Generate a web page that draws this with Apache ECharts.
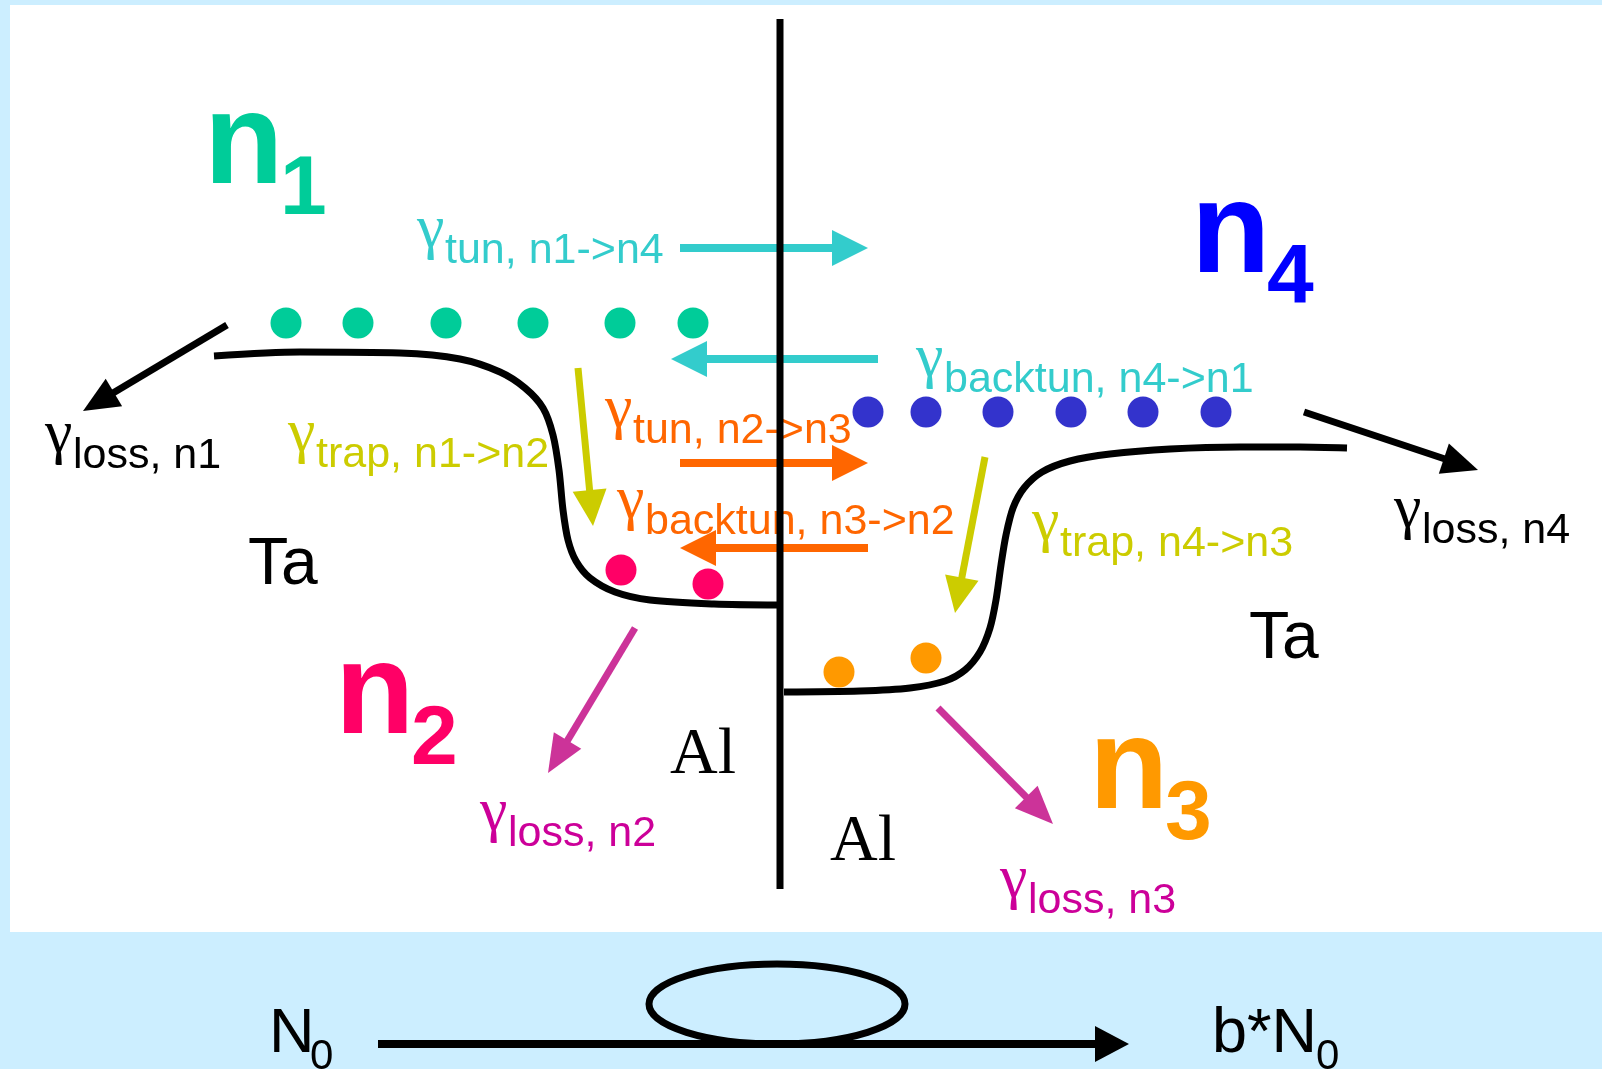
<!DOCTYPE html>
<html><head><meta charset="utf-8">
<script src="https://cdn.jsdelivr.net/npm/echarts@6/dist/echarts.min.js"></script>
<style>html,body{margin:0;padding:0;background:#cceeff;overflow:hidden}#c{width:1602px;height:1069px}</style>
</head><body><div id="c"></div>
<script>
// ---------- Diagram data (diagram units: x 0..1602 left->right, y 0..1069 top->bottom) ----------
const extentX = [0, 1602];
const extentY = [0, 1069];
const panel = [[10, 5, 1602, 932]];
const interfaceLine = [[780, 19], [780, 889]];
const leftEdge = [[214,356],[300,352],[400,353],[460,359],[500,372],[525,388],[543,408],[553,435],[559,470],[563,510],[568,540],[576,561],[590,578],[615,592],[650,600],[714,604],[778,605]];
const rightEdge = [[784,692],[860,691],[910,688],[945,681],[965,670],[980,652],[990,628],[996,600],[1001,565],[1006,535],[1013,508],[1024,488],[1042,472],[1070,461],[1110,454],[1170,449],[1240,447],[1300,447],[1347,448]];
const n1Dots = [[286,323],[358,323],[446,323],[533,323],[620,323],[693,323]];
const n4Dots = [[868,412],[926,412],[998,412],[1071,412],[1143,412],[1216,412]];
const n2Dots = [[621,570],[708,584]];
const n3Dots = [[839,672],[926,658]];
const tunnelArrowsN1N4 = [[680,248,868,248],[878,359,671,359]];
const tunnelArrowsN2N3 = [[680,463,868,463],[868,548,680,548]];
const trapArrows = [[578,368,593,526],[985,457,955,613]];
const lossArrowsTa = [[227,325,83,411],[1304,412,1478,470]];
const lossArrowsAl = [[635,628,548,773],[938,708,1053,824]];
const processArrow = [[378,1044,1129,1044]];
const loopEllipse = [[777,1004,128,40]];
// population labels: [x, baseline, base, subscript]
const populationLabels = [[204,183,'n','1'],[335,733,'n','2'],[1089,808,'n','3'],[1191,272,'n','4']];
// rate labels: [x, baseline, subscript text]
const rateTunnelN1N4 = [[417,263,'tun, n1->n4'],[916,392,'backtun, n4->n1']];
const rateTunnelN2N3 = [[605,443,'tun, n2->n3'],[617,534,'backtun, n3->n2']];
const rateTrap = [[288,467,'trap, n1->n2'],[1032,556,'trap, n4->n3']];
const rateLossTa = [[45,468,'loss, n1'],[1394,543,'loss, n4']];
const rateLossAl = [[480,846,'loss, n2'],[1000,913,'loss, n3']];
const materialTa = [[248,584,'Ta'],[1249,658,'Ta']];
const materialAl = [[670,773,'Al'],[830,860,'Al']];
// bottom process labels: [x, baseline, text, subX, subBaseline, sub]
const processLabels = [[269,1052,'N',310,1069,'0'],[1212,1052,'b*N',1316,1069,'0']];

// ---------- styles ----------
const COL = {bg:'#cceeff', panel:'#ffffff', black:'#000000', cyan:'#33cccc', green:'#00cc99', blue:'#0000ff', blueDot:'#3333cc',
  pink:'#ff0066', orange:'#ff9900', orangeArrow:'#ff6600', yellow:'#cccc00', magentaArrow:'#cc3399', magentaText:'#cc0099'};
const SANS = '"Liberation Sans", Arial, sans-serif';
const SERIF = '"Liberation Serif", "Times New Roman", serif';

const _ctx = document.createElement('canvas').getContext('2d');
function midOffset(weight, size, family) {
  _ctx.font = 'normal ' + weight + ' ' + size + 'px ' + family;
  _ctx.textBaseline = 'middle';
  return _ctx.measureText('H').actualBoundingBoxDescent;
}
function textEl(px, py, str, size, family, weight, color) {
  const off = midOffset(weight, size, family);
  return {type:'text', x:px, y:py - off, silent:true,
    style:{text:str, fontSize:size, fontFamily:family, fontWeight:weight, fill:color, align:'left', verticalAlign:'middle'}};
}

function arrowSeries(data, color, width, headLen, headW) {
  return {type:'custom', data, z:4, silent:true,
    renderItem(params, api) {
      const p0 = api.coord([api.value(0), api.value(1)]);
      const p1 = api.coord([api.value(2), api.value(3)]);
      const dx = p1[0]-p0[0], dy = p1[1]-p0[1], L = Math.hypot(dx, dy);
      const ux = dx/L, uy = dy/L;
      const bx = p1[0]-ux*headLen, by = p1[1]-uy*headLen;
      return {type:'group', children:[
        {type:'line', shape:{x1:p0[0], y1:p0[1], x2:bx+ux*2, y2:by+uy*2}, style:{stroke:color, lineWidth:width}},
        {type:'polygon', shape:{points:[[p1[0],p1[1]],[bx-uy*headW/2, by+ux*headW/2],[bx+uy*headW/2, by-ux*headW/2]]}, style:{fill:color}}
      ]};
    }};
}
function dotSeries(data, color) {
  return {type:'scatter', data, symbolSize:31, z:3, silent:true, itemStyle:{color, opacity:1}};
}
function edgeSeries(data) {
  return {type:'line', data, smooth:0.3, symbol:'none', z:2, silent:true, lineStyle:{color:COL.black, width:7}};
}
function rateSeries(data, color) {
  return {type:'custom', data, z:5, silent:true,
    renderItem(params, api) {
      const d = data[params.dataIndex];
      const p = api.coord([d[0], d[1]]);
      return {type:'group', children:[
        textEl(p[0], p[1]-16, '\u03b3', 62, SERIF, 'normal', color),
        textEl(p[0]+28, p[1], d[2], 43, SANS, 'normal', color)
      ]};
    }};
}
function materialSeries(data, family, size) {
  return {type:'custom', data, z:5, silent:true,
    renderItem(params, api) {
      const d = data[params.dataIndex];
      const p = api.coord([d[0], d[1]]);
      return textEl(p[0], p[1], d[2], size, family, 'normal', COL.black);
    }};
}
const popColors = [COL.green, COL.pink, COL.orange, COL.blue];

const option = {
  backgroundColor: COL.bg,
  animation: false,
  grid: {left:0, right:0, top:0, bottom:0},
  xAxis: {type:'value', min:extentX[0], max:extentX[1], show:false},
  yAxis: {type:'value', min:extentY[0], max:extentY[1], inverse:true, show:false},
  series: [
    {type:'custom', data:panel, z:0, silent:true,
      renderItem(params, api) {
        const a = api.coord([api.value(0), api.value(1)]), b = api.coord([api.value(2), api.value(3)]);
        return {type:'rect', shape:{x:a[0], y:a[1], width:b[0]-a[0], height:b[1]-a[1]}, style:{fill:COL.panel}};
      }},
    edgeSeries(leftEdge),
    edgeSeries(rightEdge),
    dotSeries(n1Dots, COL.green),
    dotSeries(n4Dots, COL.blueDot),
    dotSeries(n2Dots, COL.pink),
    dotSeries(n3Dots, COL.orange),
    arrowSeries(tunnelArrowsN1N4, COL.cyan, 8, 36, 36),
    arrowSeries(tunnelArrowsN2N3, COL.orangeArrow, 8, 36, 36),
    arrowSeries(trapArrows, COL.yellow, 7, 36, 34),
    arrowSeries(lossArrowsTa, COL.black, 7, 36, 32),
    arrowSeries(lossArrowsAl, COL.magentaArrow, 7, 38, 32),
    arrowSeries(processArrow, COL.black, 8, 34, 36),
    {type:'custom', data:loopEllipse, z:4, silent:true,
      renderItem(params, api) {
        const c = api.coord([api.value(0), api.value(1)]);
        const s = api.size([api.value(2), api.value(3)]);
        return {type:'ellipse', shape:{cx:c[0], cy:c[1], rx:s[0], ry:s[1]}, style:{fill:null, stroke:COL.black, lineWidth:7}};
      }},
    rateSeries(rateTunnelN1N4, COL.cyan),
    rateSeries(rateTunnelN2N3, COL.orangeArrow),
    rateSeries(rateTrap, COL.yellow),
    rateSeries(rateLossTa, COL.black),
    rateSeries(rateLossAl, COL.magentaText),
    materialSeries(materialTa, SANS, 66),
    materialSeries(materialAl, SERIF, 66),
    {type:'custom', data:populationLabels, z:5, silent:true,
      renderItem(params, api) {
        const d = populationLabels[params.dataIndex];
        const p = api.coord([d[0], d[1]]);
        const col = popColors[params.dataIndex];
        return {type:'group', children:[
          textEl(p[0], p[1], d[2], 130, SANS, 'bold', col),
          textEl(p[0]+76, p[1]+31, d[3], 84, SANS, 'bold', col)
        ]};
      }},
    {type:'custom', data:processLabels, z:5, silent:true,
      renderItem(params, api) {
        const d = processLabels[params.dataIndex];
        const p = api.coord([d[0], d[1]]);
        const q = api.coord([d[3], d[4]]);
        return {type:'group', children:[
          textEl(p[0], p[1], d[2], 63, SANS, 'normal', COL.black),
          textEl(q[0], q[1], d[5], 42, SANS, 'normal', COL.black)
        ]};
      }},
    {type:'line', data:interfaceLine, symbol:'none', z:6, silent:true, lineStyle:{color:COL.black, width:7}}
  ]
};
const chart = echarts.init(document.getElementById('c'), null, {renderer:'canvas', width:1602, height:1069});
chart.setOption(option);
</script></body></html>
